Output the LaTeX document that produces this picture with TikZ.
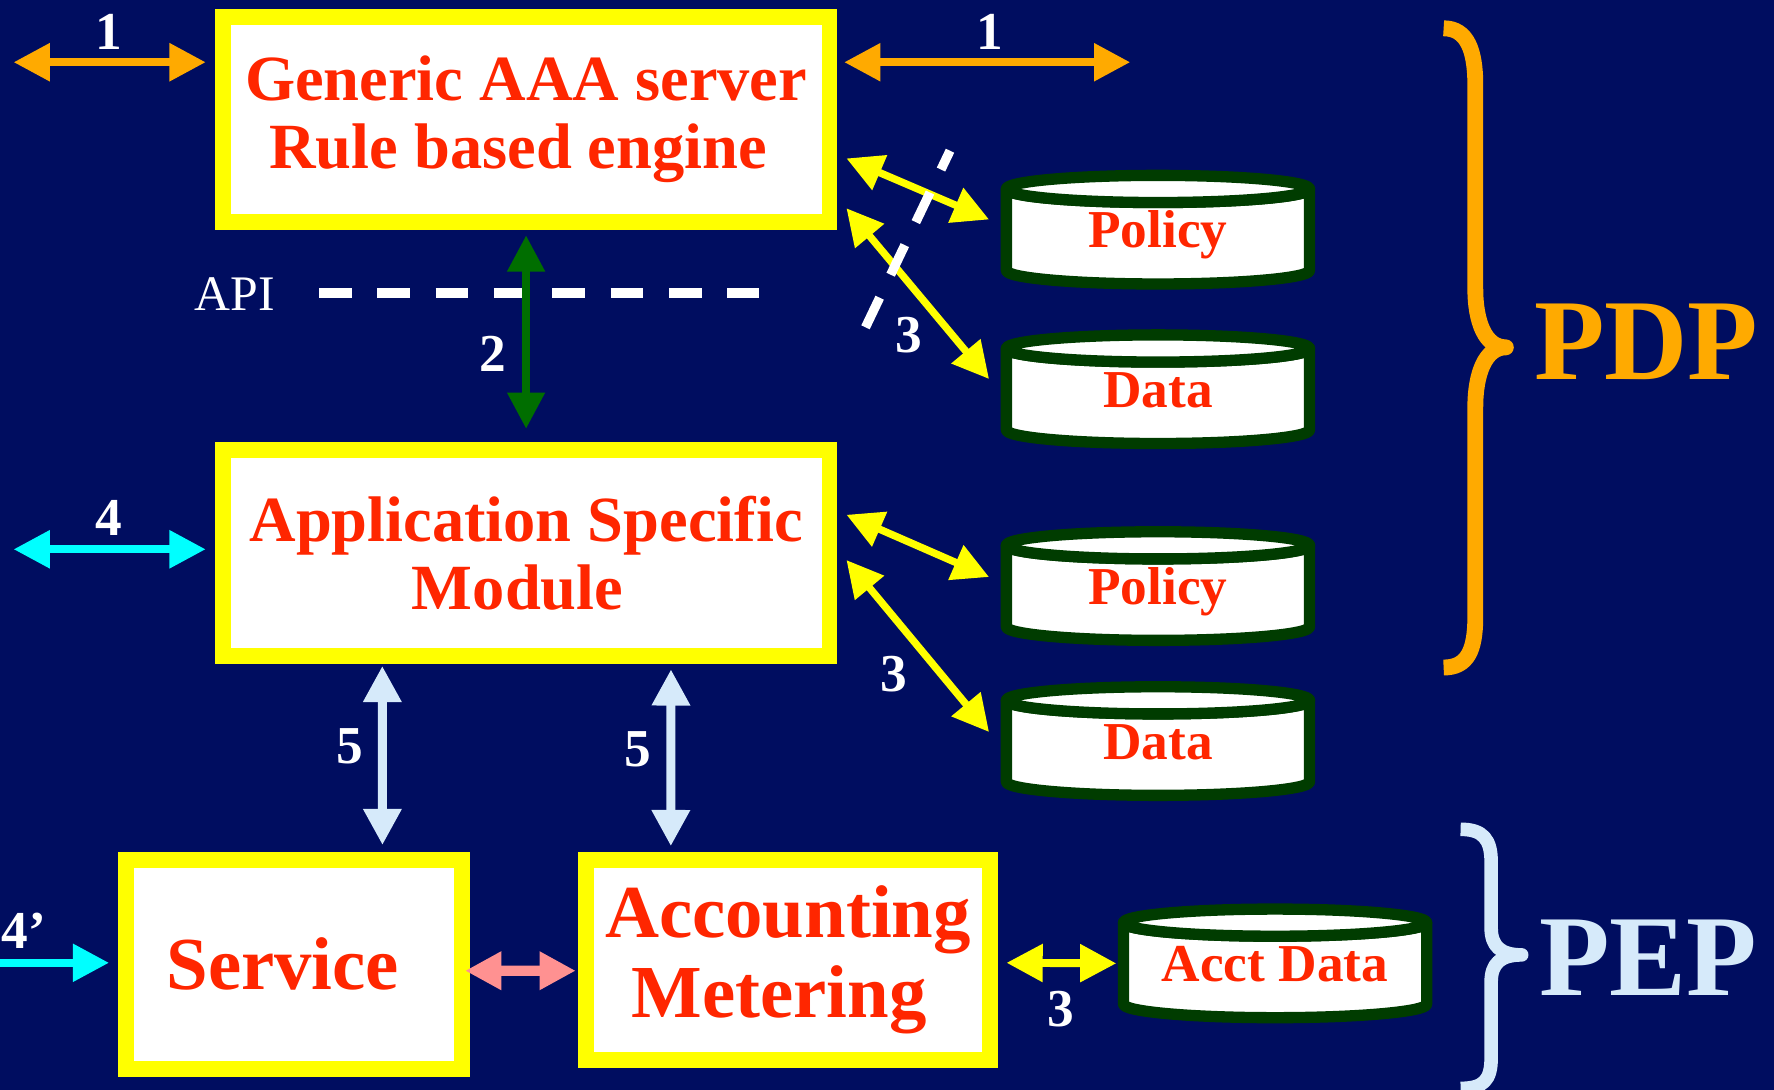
\documentclass[tikz,border=0pt]{standalone}
\usepackage{fontspec}
\setmainfont{Liberation Serif}
\usetikzlibrary{arrows.meta}

\definecolor{bgnavy}{RGB}{0,13,96}
\definecolor{boxyellow}{RGB}{255,255,0}
\definecolor{txtred}{RGB}{255,38,0}
\definecolor{dbgreen}{RGB}{0,60,0}
\definecolor{arrorange}{RGB}{255,170,0}
\definecolor{arrgreen}{RGB}{0,110,0}
\definecolor{arrcyan}{RGB}{0,255,255}
\definecolor{arrlblue}{RGB}{214,234,250}
\definecolor{arrpink}{RGB}{255,145,145}

\tikzset{
  mainbox/.style={draw=boxyellow, line width=0.14cm, fill=white, text=txtred, align=center, inner sep=0pt,
    font=\fontsize{16.2pt}{17.1pt}\selectfont\bfseries},
  bigbox/.style={mainbox, font=\fontsize{18.8pt}{20.1pt}\selectfont\bfseries},
  dbbody/.style={draw=dbgreen, line width=0.1cm, line join=round, fill=white},
  dbtext/.style={text=txtred, font=\fontsize{13.4pt}{14pt}\selectfont\bfseries, inner sep=0pt,
    minimum width=2.79cm, minimum height=1.06cm, text height=0.32cm, text depth=0pt},
  numlbl/.style={text=white, font=\fontsize{13.4pt}{14pt}\selectfont\bfseries, inner sep=0pt, anchor=base},
  arr/.style={<->, line width=0.07cm},
  cutline/.style={white, line width=0.082cm, dash pattern=on 0.29cm off 0.225cm},
}

\begin{document}
\begin{tikzpicture}[x=0.01cm, y=-0.01cm, >={Triangle[length=0.32cm,width=0.32cm]}]
	\fill[bgnavy] (0,0) rectangle (1568,963);
	\useasboundingbox (0,0) rectangle (1568,963);
	% boxes
	\node[mainbox, minimum width=5.36cm, minimum height=1.81cm] (aaa) at (465,105.5) {Generic AAA server\\Rule based engine\kern0.14cm};
	\node[mainbox, minimum width=5.36cm, minimum height=1.82cm] (asm) at (465,489) {Application Specific\\Module\kern0.15cm};
	\node[bigbox, minimum width=2.97cm, minimum height=1.846cm] (srv) at (260,852.3) {Service\kern0.2cm};
	\node[bigbox, minimum width=3.57cm, minimum height=1.77cm] (acc) at (696.5,848.5) {Accounting\\Metering\kern0.16cm};
	% data stores
	\foreach \nm/\cx/\cy/\txt in {pol1/1023.5/203/Policy, dat1/1023.5/344/Data, pol2/1023.5/518/Policy, dat2/1023.5/655/Data, acd/1127/851.5/Acct Data} {
		\filldraw[dbbody] (\cx-134,\cy-36) -- (\cx-134,\cy+36) arc[start angle=180, end angle=0, x radius=134, y radius=12]
			-- (\cx+134,\cy-36) arc[start angle=0, end angle=180, x radius=134, y radius=12] -- cycle;
		\filldraw[dbbody] (\cx,\cy-36) ellipse[x radius=134, y radius=12];
		\node[dbtext] (\nm) at (\cx,\cy) {\txt};
	}
	% API cut
	\node[anchor=base, text=white, inner sep=0pt, font=\fontsize{12.5pt}{13pt}\selectfont] (api) at (207.5,274) {API};
	\coordinate (apil) at (282,259);
	\coordinate (apir) at (671,259);
	\draw[cutline] (apil) -- (apir);
	% arrows
	\coordinate (l1) at (12,55);
	\coordinate (r1) at (999,55);
	\draw[arr, color=arrorange, shorten >=0.08cm] (l1) -- (l1 -| aaa.west);
	\draw[arr, color=arrorange, shorten <=0.06cm] (r1 -| aaa.east) -- (r1);
	\draw[arr, color=arrgreen, line width=0.065cm, shorten <=0.05cm, shorten >=0.12cm] (aaa.south) -- (asm.north);
	\draw[arr, color=boxyellow, line width=0.065cm] ([xshift=0.08cm,yshift=-0.345cm]aaa.east) -- ([xshift=-0.09cm,yshift=0.09cm]pol1.west);
	\draw[arr, color=boxyellow, line width=0.065cm] ([xshift=0.08cm,yshift=-0.785cm]aaa.east) -- ([xshift=-0.09cm,yshift=0.09cm]dat1.west);
	\draw[arr, color=boxyellow, line width=0.065cm] ([xshift=0.08cm,yshift=0.34cm]asm.east) -- ([xshift=-0.09cm,yshift=0.08cm]pol2.west);
	\draw[arr, color=boxyellow, line width=0.065cm] ([xshift=0.08cm,yshift=-0.06cm]asm.east) -- ([xshift=-0.09cm,yshift=0.08cm]dat2.west);
	\coordinate (cutb) at (765,289.3);
	\coordinate (cutt) at (839.7,133.2);
	\draw[cutline] (cutb) -- (cutt);
	\coordinate (l4) at (12,485.5);
	\coordinate (l4p) at (0,851);
	\draw[arr, color=arrcyan, shorten >=0.08cm] (l4) -- (l4 -| asm.west);
	\draw[->, line width=0.07cm, color=arrcyan, shorten >=0.08cm] (l4p) -- (l4p -| srv.west);
	\draw[arr, color=arrlblue, line width=0.08cm, shorten <=0.015cm, shorten >=0.06cm] ([xshift=-1.27cm]asm.south) -- ([xshift=0.78cm]srv.north);
	\draw[arr, color=arrlblue, line width=0.08cm, shorten <=0.045cm, shorten >=0.05cm] ([xshift=1.28cm]asm.south) -- ([xshift=-1.035cm]acc.north);
	\draw[arr, color=arrpink, line width=0.09cm] ([xshift=-0.045cm,yshift=-0.057cm]srv.east) -- ([xshift=-0.02cm,yshift=-0.095cm]acc.west);
	\draw[arr, color=boxyellow] ([xshift=0.075cm,yshift=-0.025cm]acc.east) -- (acd.west);
	% numbers
	\node[numlbl] (n1a) at (96,43.6) {1};
	\node[numlbl] (n1b) at (875,43.6) {1};
	\node[numlbl] (n2) at (436,328.5) {2};
	\node[numlbl] (n3a) at (803,311.7) {3};
	\node[numlbl] (n4) at (96,473) {4};
	\node[numlbl] (n3b) at (790,611.3) {3};
	\node[numlbl] (n5a) at (309,674.7) {5};
	\node[numlbl] (n5b) at (564,677.6) {5};
	\node[numlbl, anchor=base west] (n4p) at (1,838) {4’};
	\node[numlbl] (n3c) at (937.5,907.4) {3};
	% braces
	\draw[color=arrorange, line width=0.14cm, line join=round] (1276,25) .. controls (1297,25) and (1304,45) .. (1304,75) -- (1304,255)
		.. controls (1304,285) and (1313,307) .. (1331,307) .. controls (1313,307) and (1304,330) .. (1304,360) -- (1304,545)
		.. controls (1304,575) and (1297,590) .. (1276,590);
	\draw[color=arrlblue, line width=0.12cm, line join=round] (1291,733) .. controls (1311,733) and (1318,742) .. (1318,762) -- (1318,820)
		.. controls (1318,836) and (1326,844) .. (1345,844) .. controls (1326,844) and (1318,852) .. (1318,868) -- (1318,935)
		.. controls (1318,955) and (1311,962) .. (1291,962);
	\node[anchor=base, text=arrorange, inner sep=0pt, font=\fontsize{29pt}{30pt}\selectfont\bfseries] (pdp) at (1455,335) {PDP};
	\node[anchor=base, text=arrlblue, inner sep=0pt, font=\fontsize{29pt}{30pt}\selectfont\bfseries] (pep) at (1457,879.5) {PEP};
\end{tikzpicture}
\end{document}
